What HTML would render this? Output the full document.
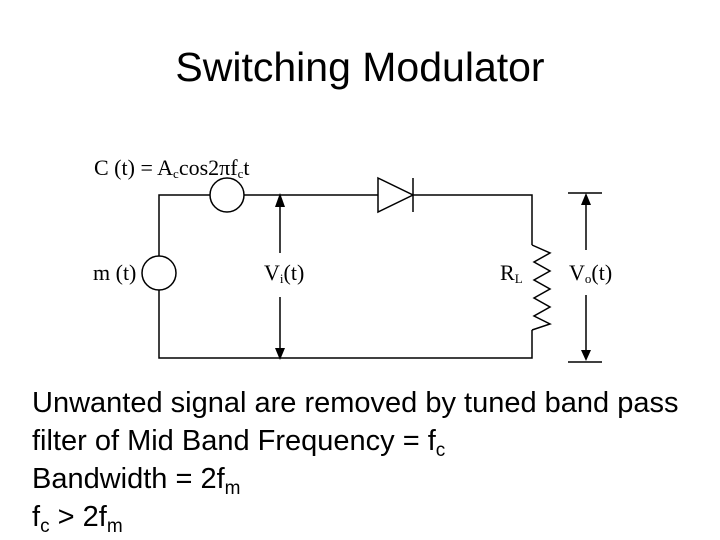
<!DOCTYPE html>
<html><head><style>
body{margin:0;width:720px;height:540px;background:#fff;overflow:hidden;font-family:"Liberation Sans",sans-serif;}
.t{position:absolute;left:0;width:720px;text-align:center;top:44px;font-size:41px;}
.b{position:absolute;left:32px;top:384px;font-size:29px;line-height:38px;white-space:nowrap;}
sub{font-size:19px;vertical-align:-6px;line-height:0;}
</style></head><body>
<div class="t">Switching Modulator</div>
<svg width="720" height="540" style="position:absolute;left:0;top:0" font-family="Liberation Serif" font-size="22">
<g stroke="#000" stroke-width="1.5" fill="none">
<path d="M210 195H159V256M159 290V358H532V330M532 245V195H413"/>
<path d="M244 195H378"/>
<circle cx="227" cy="195" r="17"/>
<circle cx="159" cy="273" r="17"/>
<path d="M378 178L413 195L378 212Z" fill="#fff"/>
<path d="M413 178V212"/>
<path d="M532 245L550 253L534 262L550 271L534 280L550 289L534 298L550 307L534 316L550 324L532 330"/>
<path d="M280 205V253M280 297V350"/>
<path d="M586 203V250M586 295V352"/>
<path d="M568 193H602M568 362H602"/>
</g>
<g fill="#000">
<path d="M275 207L280 193L285 207Z"/>
<path d="M275 348L280 360L285 348Z"/>
<path d="M581 205L586 193L591 205Z"/>
<path d="M581 350L586 361L591 350Z"/>
</g>
<text x="94" y="175">C (t) = A<tspan font-size="13" dy="3">c</tspan><tspan dy="-3">cos2πf</tspan><tspan font-size="13" dy="3">c</tspan><tspan dy="-3">t</tspan></text>
<text x="93" y="280">m (t)</text>
<text x="264" y="280">V<tspan font-size="13" dy="3">i</tspan><tspan dy="-3">(t)</tspan></text>
<text x="500" y="280">R<tspan font-size="13" dy="3">L</tspan></text>
<text x="569" y="280">V<tspan font-size="13" dy="3">o</tspan><tspan dy="-3">(t)</tspan></text>
</svg>
<div class="b">Unwanted signal are removed by tuned band pass<br>filter of Mid Band Frequency = f<sub>c</sub><br>Bandwidth = 2f<sub>m</sub><br>f<sub>c</sub> &gt; 2f<sub>m</sub></div>
</body></html>
